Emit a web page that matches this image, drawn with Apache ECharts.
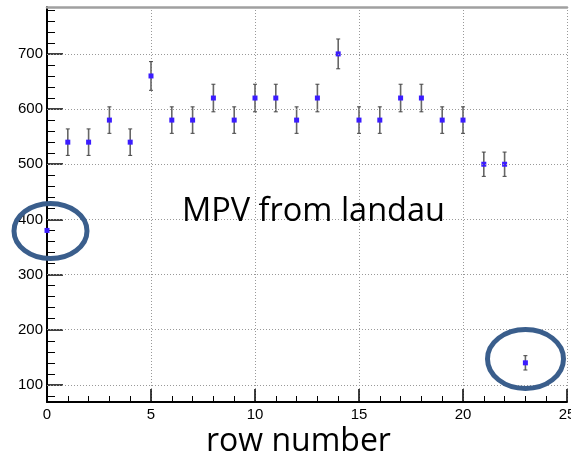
<!DOCTYPE html>
<html><head><meta charset="utf-8">
<script src="https://cdn.jsdelivr.net/npm/echarts@6/dist/echarts.min.js"></script>
<style>html,body{margin:0;padding:0;background:#fff}#c{width:571px;height:461px}</style>
</head><body><div id="c"></div>
<script>
const rows = [0,1,2,3,4,5,6,7,8,9,10,11,12,13,14,15,16,17,18,19,20,21,22,23];
const mpv = [380,540,540,580,540,660,580,580,620,580,620,620,580,620,700,580,580,620,620,580,580,500,500,140];
const mpvErr = [0,24,24,24,24,26,24,24,25,24,25,25,24,25,27,24,24,25,25,24,24,22,22,13];
const yMajor = [100,200,300,400,500,600,700];
const yMinor = [80,120,140,160,180,220,240,260,280,320,340,360,380,420,440,460,480,520,540,560,580,620,640,660,680,720,740,760,780];
const xTitle = 'row number';
const annot = 'MPV from landau';

const chart = echarts.init(document.getElementById('c'), null, {renderer:'canvas'});
const labelFont = 'Liberation Sans';
const option = {
  animation: false,
  backgroundColor: '#fff',
  grid: {left: 47, right: 4, top: 7, bottom: 59, containLabel: false, outerBoundsMode: 'none'},
  xAxis: [{
    type: 'value', min: 0, max: 25, interval: 5, position: 'bottom',
    axisLine: {show: true, lineStyle: {color: '#000', width: 2}},
    axisTick: {show: true, inside: true, length: 13, lineStyle: {color: '#000', width: 1.5}},
    minorTick: {show: true, splitNumber: 5, length: 6, lineStyle: {color: '#000', width: 1}},
    axisLabel: {fontSize: 15, color: '#000', margin: 5, fontFamily: labelFont, showMinLabel: true, showMaxLabel: true},
    splitLine: {show: true, lineStyle: {color: '#999', type: [1, 2], width: 1}},
    minorSplitLine: {show: false}
  }, {
    type: 'value', min: 0, max: 25, position: 'top',
    axisLine: {show: true, lineStyle: {color: '#a0a0a0', width: 2.5}},
    axisTick: {show: false}, axisLabel: {show: false}, splitLine: {show: false}
  }],
  yAxis: [{
    type: 'value', min: 69, max: 785, position: 'left',
    axisLine: {show: true, lineStyle: {color: '#000', width: 2}},
    axisTick: {show: true, inside: true, length: 16, customValues: yMajor, lineStyle: {color: '#000', width: 1.5}},
    axisLabel: {show: true, customValues: yMajor, fontSize: 15, color: '#000', margin: 4, fontFamily: labelFont},
    splitLine: {show: false}
  }, {
    type: 'value', min: 69, max: 785, position: 'left',
    axisLine: {show: false},
    axisTick: {show: true, inside: true, length: 8, customValues: yMinor, lineStyle: {color: '#000', width: 1}},
    axisLabel: {show: false},
    splitLine: {show: false}
  }],
  series: [{
    type: 'scatter', data: [], z: 1, silent: true,
    markLine: {
      silent: true, symbol: ['none', 'none'], label: {show: false},
      lineStyle: {color: '#999', type: [1, 2], width: 1},
      emphasis: {disabled: true},
      data: yMajor.map(v => ({yAxis: v}))
    }
  }, {
    type: 'custom', z: 2,
    data: rows.map((r, i) => [r, mpv[i], mpvErr[i]]),
    renderItem: function (params, api) {
      const x = api.value(0), y = api.value(1), e = api.value(2);
      if (!e) return null;
      const t = api.coord([x, y + e]), b = api.coord([x, y - e]);
      const st = {stroke: '#666', lineWidth: 1.6};
      return {type: 'group', children: [
        {type: 'line', shape: {x1: t[0], y1: t[1], x2: b[0], y2: b[1]}, style: st},
        {type: 'line', shape: {x1: t[0] - 2, y1: t[1], x2: t[0] + 2, y2: t[1]}, style: {stroke: '#444', lineWidth: 1}},
        {type: 'line', shape: {x1: b[0] - 2, y1: b[1], x2: b[0] + 2, y2: b[1]}, style: {stroke: '#444', lineWidth: 1}}
      ]};
    }
  }, {
    type: 'scatter', z: 3,
    data: rows.map((r, i) => [r, mpv[i]]),
    symbol: 'rect', symbolSize: 5,
    itemStyle: {color: '#3b1cff', opacity: 1}
  }],
  graphic: [
    {type: 'text', left: 182, top: 195, z: 10,
     style: {text: annot, font: '32.5px "Open Sans"', fill: '#000'}},
    {type: 'text', left: 206, top: 426, z: 10,
     style: {text: xTitle, font: '32px "Open Sans"', fill: '#000'}},
    {type: 'ellipse', z: 10, shape: {cx: 50.5, cy: 231, rx: 36.5, ry: 27.5},
     style: {fill: 'none', stroke: '#3a5e8c', lineWidth: 5}},
    {type: 'ellipse', z: 10, shape: {cx: 525.5, cy: 359, rx: 38, ry: 29.5},
     style: {fill: 'none', stroke: '#3a5e8c', lineWidth: 5}}
  ]
};
chart.setOption(option);
</script>
</body></html>
